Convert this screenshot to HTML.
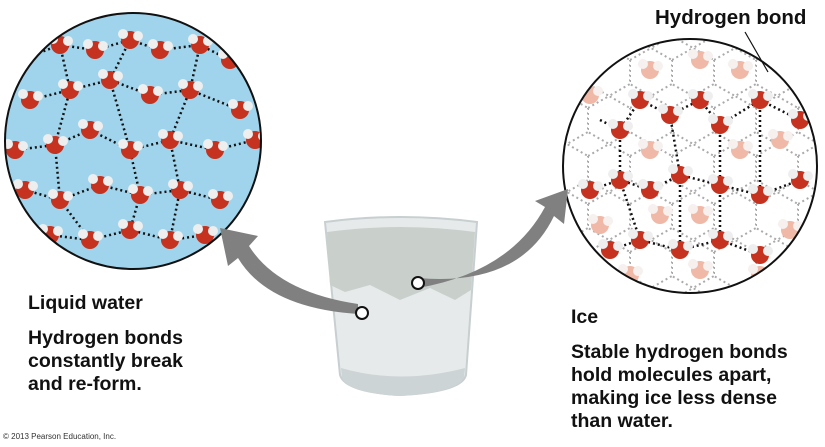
<!DOCTYPE html>
<html><head><meta charset="utf-8"><style>
html,body{margin:0;padding:0;background:#fff;}
body{width:825px;height:447px;overflow:hidden;position:relative;font-family:"Liberation Sans",sans-serif;}
.t{position:absolute;font-weight:bold;font-size:19.5px;color:#111;line-height:23px;}
</style></head><body>
<svg width="825" height="447" style="position:absolute;left:0;top:0">
<defs>
<clipPath id="cl"><circle cx="133" cy="141" r="128"/></clipPath>
<clipPath id="cr"><circle cx="690" cy="166" r="127"/></clipPath>
<pattern id="hex" width="42" height="48" patternUnits="userSpaceOnUse">
<path d="M0 12 L21 0 L42 12 M21 0 L21 -12 M0 12 L0 36 L21 48 L42 36 L42 12 M21 48 L21 60" stroke="#aaa" stroke-width="2" stroke-dasharray="2,3" fill="none"/>
</pattern>
<g id="m"><circle r="9" fill="#c5321f"/><circle cx="-7" cy="-6" r="5" fill="#eee"/><circle cx="8" cy="-4" r="5" fill="#eee"/></g>
<g id="p"><circle r="9" fill="#f0b8a6"/><circle cx="-7" cy="-6" r="5" fill="#f6f0ee"/><circle cx="8" cy="-4" r="5" fill="#f6f0ee"/></g>
</defs>
<circle cx="133" cy="141" r="128" fill="#9fd4ec"/>
<g clip-path="url(#cl)" stroke="#111" stroke-width="2.5" stroke-dasharray="2,3" fill="none">
<path d="M20 60 L60 45 L95 50 L130 40 L160 50 L200 45 L230 60 M30 100 L70 90 L110 80 L150 95 L190 90 L240 110 M15 150 L55 145 L90 130 L130 150 L170 140 L215 150 L255 140 M25 190 L60 200 L100 185 L140 195 L180 190 L220 200 M50 235 L90 240 L130 230 L170 240 L205 235 M60 45 L70 90 L55 145 L60 200 L90 240 M130 40 L110 80 L130 150 L140 195 L130 230 M200 45 L190 90 L170 140 L180 190 L170 240"/>
</g>
<g clip-path="url(#cl)">
<use href="#m" x="60" y="45"/><use href="#m" x="95" y="50"/><use href="#m" x="130" y="40"/><use href="#m" x="160" y="50"/><use href="#m" x="200" y="45"/><use href="#m" x="230" y="60"/><use href="#m" x="20" y="60"/>
<use href="#m" x="30" y="100"/><use href="#m" x="70" y="90"/><use href="#m" x="110" y="80"/><use href="#m" x="150" y="95"/><use href="#m" x="190" y="90"/><use href="#m" x="240" y="110"/>
<use href="#m" x="15" y="150"/><use href="#m" x="55" y="145"/><use href="#m" x="90" y="130"/><use href="#m" x="130" y="150"/><use href="#m" x="170" y="140"/><use href="#m" x="215" y="150"/><use href="#m" x="255" y="140"/>
<use href="#m" x="25" y="190"/><use href="#m" x="60" y="200"/><use href="#m" x="100" y="185"/><use href="#m" x="140" y="195"/><use href="#m" x="180" y="190"/><use href="#m" x="220" y="200"/>
<use href="#m" x="50" y="235"/><use href="#m" x="90" y="240"/><use href="#m" x="130" y="230"/><use href="#m" x="170" y="240"/><use href="#m" x="205" y="235"/>
</g>
<circle cx="133" cy="141" r="128" fill="none" stroke="#111" stroke-width="2"/>
<circle cx="690" cy="166" r="127" fill="#fff"/>
<g clip-path="url(#cr)">
<rect x="560" y="36" width="260" height="262" fill="url(#hex)"/>
<g stroke="#111" stroke-width="2.5" stroke-dasharray="2,3" fill="none">
<path d="M600 120 L620 130 L640 100 L670 115 L700 100 L720 125 L760 100 L800 120 M590 190 L620 180 L650 190 L680 175 L720 185 L760 195 L800 180 M620 130 L620 180 M670 115 L680 175 M720 125 L720 185 M760 100 L760 195 M610 250 L640 240 L680 250 L720 240 L760 255 M620 180 L640 240 M680 175 L680 250 M720 185 L720 240"/>
</g>
<use href="#p" x="590" y="95"/><use href="#p" x="650" y="70"/><use href="#p" x="740" y="70"/><use href="#p" x="780" y="140"/><use href="#p" x="600" y="225"/><use href="#p" x="660" y="215"/><use href="#p" x="700" y="215"/><use href="#p" x="740" y="150"/><use href="#p" x="650" y="150"/><use href="#p" x="790" y="230"/><use href="#p" x="700" y="270"/><use href="#p" x="630" y="275"/><use href="#p" x="760" y="275"/><use href="#p" x="700" y="60"/>
<use href="#m" x="620" y="130"/><use href="#m" x="640" y="100"/><use href="#m" x="670" y="115"/><use href="#m" x="700" y="100"/><use href="#m" x="720" y="125"/><use href="#m" x="760" y="100"/><use href="#m" x="800" y="120"/>
<use href="#m" x="590" y="190"/><use href="#m" x="620" y="180"/><use href="#m" x="650" y="190"/><use href="#m" x="680" y="175"/><use href="#m" x="720" y="185"/><use href="#m" x="760" y="195"/><use href="#m" x="800" y="180"/>
<use href="#m" x="610" y="250"/><use href="#m" x="640" y="240"/><use href="#m" x="680" y="250"/><use href="#m" x="720" y="240"/><use href="#m" x="760" y="255"/>
</g>
<circle cx="690" cy="166" r="127" fill="none" stroke="#111" stroke-width="2"/>
<line x1="745" y1="32" x2="768" y2="72" stroke="#111" stroke-width="1.2"/>
<path d="M325 222 Q400 212 477 222 L466 375 Q462 392 400 395 Q345 392 340 375 Z" fill="#e6eaeb" stroke="#c8cfd0" stroke-width="2"/>
<path d="M327 232 Q400 222 475 232 L471 290 L455 300 L430 288 L400 300 L370 285 L345 292 L330 285 Z" fill="#c9d0cc"/>
<path d="M341 368 Q400 385 465 368 L464 378 Q455 393 400 396 Q348 393 342 378 Z" fill="#cdd4d5"/>
<path d="M358 314 Q268 308 238 258 L228 266 L220 228 L258 236 L249 246 Q278 292 358 304 Z" fill="#808080"/>
<path d="M418 288 Q510 272 545 207 L535 201 L568 189 L564 224 L554 216 Q520 287 418 278 Z" fill="#808080"/>
<circle cx="362" cy="313" r="6" fill="#fff" stroke="#111" stroke-width="2"/>
<circle cx="418" cy="283" r="6" fill="#fff" stroke="#111" stroke-width="2"/>
</svg>
<div class="t" style="left:655px;top:6px;font-size:20.5px;">Hydrogen bond</div>
<div class="t" style="left:28px;top:292px;">Liquid water</div>
<div class="t" style="left:28px;top:327px;">Hydrogen bonds<br>constantly break<br>and re-form.</div>
<div class="t" style="left:571px;top:306px;">Ice</div>
<div class="t" style="left:571px;top:341px;">Stable hydrogen bonds<br>hold molecules apart,<br>making ice less dense<br>than water.</div>
<div style="position:absolute;left:3px;top:432px;font-size:8px;color:#333;">© 2013 Pearson Education, Inc.</div>
</body></html>
